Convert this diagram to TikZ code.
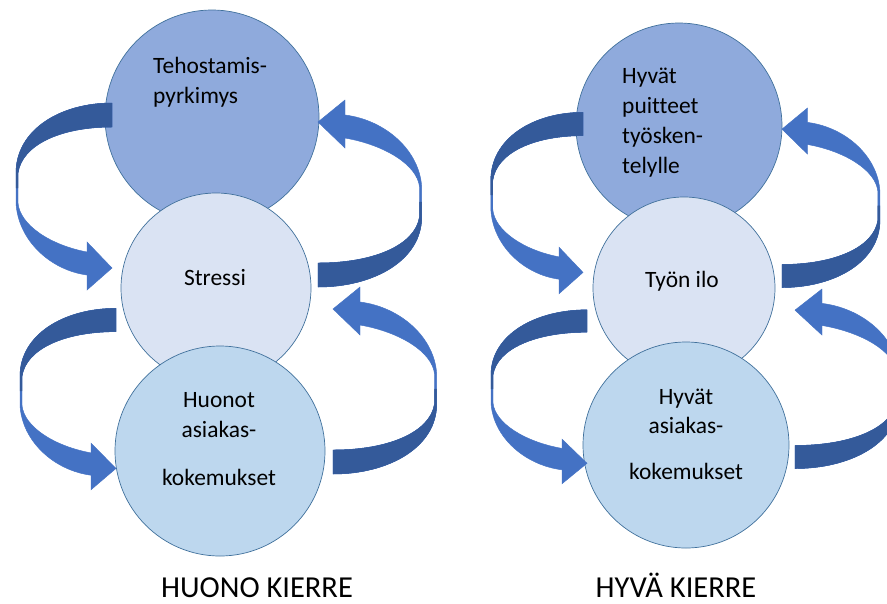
\documentclass[tikz,border=0pt]{standalone}
\usepackage{fontspec}
\setmainfont{Carlito}[Ligatures=NoCommon]

\definecolor{ylapallo}{HTML}{8FAADC}
\definecolor{keskipallo}{HTML}{DAE3F3}
\definecolor{alapallo}{HTML}{BDD7EE}
\definecolor{reuna}{HTML}{41719C}
\definecolor{nuolivalo}{HTML}{4472C4}
\definecolor{nuolitumma}{HTML}{345A9A}

\tikzset{
  pallo/.style={circle, draw=reuna, line width=0.6pt, inner sep=0pt},
  teksti/.style={font=\fontsize{20}{25.5}\selectfont, inner sep=0pt},
  otsikko/.style={font=\fontsize{26}{30}\selectfont, inner sep=0pt},
  kaari/.pic={
    % vaalea puoli ja karki
    \filldraw[draw=nuolivalo, fill=nuolivalo, line width=0.4pt]
      (0,-12) .. controls (-52,-12) and (-96,15) .. (-96,58) -- (-96,88)
      .. controls (-94,125) and (-62,155) .. (-25,160) -- (-25,175) -- (0,153)
      -- (-25,127) -- (-25,137)
      .. controls (-62,130) and (-92,110) .. (-94,88) -- (-94,58)
      .. controls (-90,30) and (-52,12) .. (0,12) -- cycle;
    % tumma hanta
    \filldraw[draw=nuolitumma, fill=nuolitumma, line width=0.4pt]
      (0,-12) .. controls (-52,-12) and (-96,15) .. (-96,58) -- (-96,73)
      -- (-94,73) -- (-94,58) .. controls (-90,30) and (-52,12) .. (0,12) -- cycle;
  }
}

\begin{document}
\begin{tikzpicture}[x=0.03cm, y=-0.03cm]
\clip (0,0) rectangle (887,603);

% Huono kierre
\node[pallo, fill=ylapallo, minimum size=6.42cm] (tehostus) at (212,117) {};
\node[pallo, fill=keskipallo, minimum size=5.7cm] (stressi) at (216,288) {};
\node[pallo, fill=alapallo, minimum size=6.3cm] (huonot) at (220,451) {};

\pic at (112,115) {kaari};
\pic[yscale=0.97] at (116,320) {kaari};
\pic[rotate=180, xscale=1.08] at (318,275) {kaari};
\pic[rotate=180, xscale=1.08] at (333,462) {kaari};

% ankkuri base = viimeisen rivin perusviiva
\node[teksti, anchor=base west, align=left] (tehostusteksti) at (153,103) {Tehostamis-\\pyrkimys};
\node[teksti, anchor=base] (stressiteksti) at (215,285) {Stressi};
\node[teksti, anchor=base, align=center] (huonotteksti) at (219,485) {Huonot\\asiakas-\\[15pt]kokemukset};
\node[otsikko, anchor=base] (huonokierre) at (257,597) {HUONO KIERRE};

% Hyva kierre
\node[pallo, fill=ylapallo, minimum size=6.18cm] (puitteet) at (679,126) {};
\node[pallo, fill=keskipallo, minimum size=5.46cm] (ilo) at (684,288) {};
\node[pallo, fill=alapallo, minimum size=6.18cm] (hyvat) at (686,445) {};

\pic[xscale=0.96, yscale=0.97] at (583,124) {kaari};
\pic[yscale=0.93] at (587,321) {kaari};
\pic[rotate=180, xscale=1.02, yscale=0.96] at (782,276) {kaari};
\pic[rotate=180, xscale=1.08, yscale=0.96] at (795,457) {kaari};

\node[teksti, anchor=base west, align=left] (puitteetteksti) at (622,173) {Hyvät\\puitteet\\työsken-\\telylle};
\node[teksti, anchor=base] (iloteksti) at (682,287) {Työn ilo};
\node[teksti, anchor=base, align=center] (hyvatteksti) at (686,479) {Hyvät\\asiakas-\\[13pt]kokemukset};
\node[otsikko, anchor=base] (hyvakierre) at (676,597) {HYVÄ KIERRE};
\end{tikzpicture}
\end{document}
